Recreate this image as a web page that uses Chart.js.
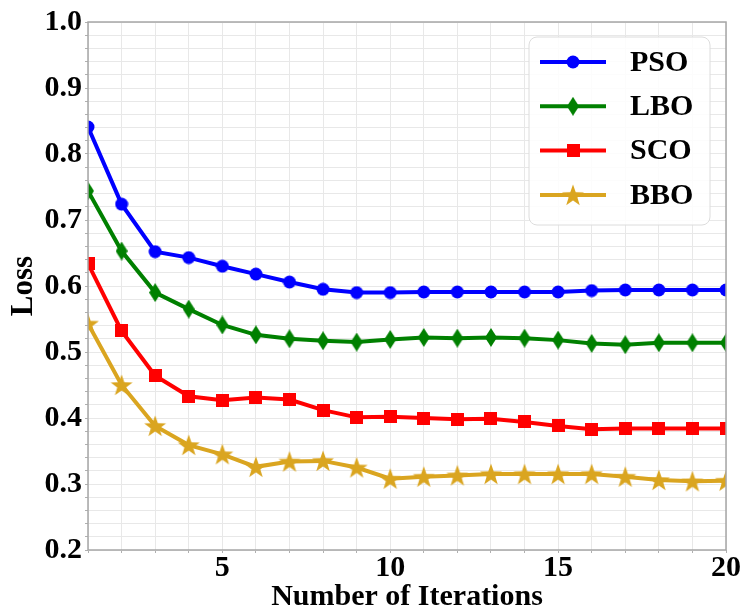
<!DOCTYPE html>
<html>
<head>
<meta charset="utf-8">
<title>Loss vs Iterations</title>
<script src="https://cdn.jsdelivr.net/npm/chart.js@4.4.1/dist/chart.umd.min.js"></script>
<style>
    html, body { margin: 0; padding: 0; background: #ffffff; }
    #chart { display: block; }
</style>
</head>
<body>
<canvas id="chart" width="744" height="608"></canvas>
<script>
var iterations = [1, 2, 3, 4, 5, 6, 7, 8, 9, 10, 11, 12, 13, 14, 15, 16, 17, 18, 19, 20];
var psoLoss = [0.841, 0.724, 0.652, 0.643, 0.630, 0.618, 0.606, 0.595, 0.590, 0.590, 0.591, 0.591, 0.591, 0.591, 0.591, 0.593, 0.594, 0.594, 0.594, 0.594];
var lboLoss = [0.744, 0.653, 0.590, 0.565, 0.541, 0.526, 0.520, 0.517, 0.515, 0.519, 0.522, 0.521, 0.522, 0.521, 0.518, 0.513, 0.511, 0.514, 0.514, 0.514];
var scoLoss = [0.634, 0.532, 0.464, 0.433, 0.427, 0.431, 0.428, 0.412, 0.401, 0.402, 0.400, 0.398, 0.399, 0.394, 0.388, 0.383, 0.384, 0.384, 0.384, 0.384];
var bboLoss = [0.543, 0.450, 0.388, 0.359, 0.345, 0.326, 0.334, 0.335, 0.325, 0.308, 0.311, 0.313, 0.315, 0.315, 0.315, 0.315, 0.311, 0.306, 0.304, 0.305];
var seriesNames = ['PSO', 'LBO', 'SCO', 'BBO'];
var xTickLabels = ['5', '10', '15', '20'];
var yTickLabels = ['0.2', '0.3', '0.4', '0.5', '0.6', '0.7', '0.8', '0.9', '1.0'];

var serif = "'Liberation Serif', 'Times New Roman', serif";

// marker images, drawn once and reused by the lines and the legend
function makeMarker(kind, color) {
    var c = document.createElement('canvas');
    var ctx, i, a, r;
    if (kind === 'circle') { c.width = 14; c.height = 14; }
    else if (kind === 'diamond') { c.width = 12; c.height = 19; }
    else if (kind === 'square') { c.width = 13; c.height = 13; }
    else { c.width = 24; c.height = 24; }
    ctx = c.getContext('2d');
    ctx.fillStyle = color;
    ctx.beginPath();
    if (kind === 'circle') {
        ctx.arc(7, 7, 6.5, 0, Math.PI * 2);
    } else if (kind === 'diamond') {
        ctx.moveTo(6, 0);
        ctx.lineTo(12, 9.5);
        ctx.lineTo(6, 19);
        ctx.lineTo(0, 9.5);
    } else if (kind === 'square') {
        ctx.rect(0, 0, 13, 13);
    } else {
        for (i = 0; i < 10; i++) {
            a = -Math.PI / 2 + i * Math.PI / 5;
            r = (i % 2 === 0) ? 11.5 : 4.6;
            ctx.lineTo(12 + r * Math.cos(a), 13 + r * Math.sin(a));
        }
    }
    ctx.closePath();
    ctx.fill();
    return c;
}

function toPoints(values) {
    return values.map(function (v, i) {
        return { x: iterations[i], y: v };
    });
}

function lineSet(label, values, color, marker) {
    return {
        label: label,
        data: toPoints(values),
        borderColor: color,
        backgroundColor: color,
        borderWidth: 4,
        tension: 0,
        pointStyle: marker,
        pointRadius: 7,
        pointHoverRadius: 7
    };
}

// grey frame round the plot area, like a boxed axes
var frame = {
    id: 'frame',
    afterDatasetsDraw: function (chart) {
        var a = chart.chartArea;
        var ctx = chart.ctx;
        ctx.save();
        ctx.strokeStyle = '#a6a6a6';
        ctx.lineWidth = 1.5;
        ctx.strokeRect(a.left, a.top, a.right - a.left, a.bottom - a.top);
        ctx.restore();
    }
};

// legend box in the top right corner of the plot
var boxLegend = {
    id: 'boxLegend',
    afterDatasetsDraw: function (chart) {
        var ctx = chart.ctx;
        var x = 529, y = 37, w = 181, h = 188, rad = 8;
        ctx.save();
        ctx.beginPath();
        ctx.roundRect(x, y, w, h, rad);
        ctx.fillStyle = 'rgba(255,255,255,0.85)';
        ctx.fill();
        ctx.strokeStyle = '#dcdcdc';
        ctx.lineWidth = 1;
        ctx.stroke();

        chart.data.datasets.forEach(function (ds, i) {
            var rowY = 62 + i * 44.3;
            var img = ds.pointStyle;
            ctx.beginPath();
            ctx.moveTo(540, rowY);
            ctx.lineTo(606, rowY);
            ctx.strokeStyle = ds.borderColor;
            ctx.lineWidth = 4;
            ctx.stroke();
            ctx.drawImage(img, 573 - img.width / 2, rowY - img.height / 2);
            ctx.fillStyle = '#000000';
            ctx.font = 'bold 30px ' + serif;
            ctx.textAlign = 'left';
            ctx.textBaseline = 'middle';
            ctx.fillText(ds.label, 630, rowY + 1);
        });
        ctx.restore();
    }
};

function loadChart() {
    var ctx = document.getElementById('chart');
    var datasets = [
        lineSet(seriesNames[0], psoLoss, '#0000ff', makeMarker('circle', '#0000ff')),
        lineSet(seriesNames[1], lboLoss, '#008000', makeMarker('diamond', '#008000')),
        lineSet(seriesNames[2], scoLoss, '#ff0000', makeMarker('square', '#ff0000')),
        lineSet(seriesNames[3], bboLoss, '#daa520', makeMarker('star', '#daa520'))
    ];
    var config = {
        type: 'line',
        data: { datasets: datasets },
        options: {
            responsive: false,
            animation: false,
            devicePixelRatio: 1,
            layout: { padding: { top: 22, right: 18, left: 0, bottom: 0 } },
            plugins: {
                legend: { display: false },
                tooltip: { enabled: false }
            },
            scales: {
                x: {
                    type: 'linear',
                    min: 1,
                    max: 20,
                    border: { display: false },
                    grid: { color: '#e8e8e8', lineWidth: 1, tickLength: 3, tickColor: '#b0b0b0' },
                    ticks: {
                        stepSize: 1,
                        autoSkip: false,
                        maxRotation: 0,
                        padding: 0,
                        color: '#000000',
                        font: { family: serif, size: 30, weight: 'bold', lineHeight: 1 },
                        callback: function (v) {
                            var s = String(Math.round(v));
                            return xTickLabels.indexOf(s) >= 0 ? s : '';
                        }
                    },
                    title: {
                        display: true,
                        text: 'Number of Iterations',
                        color: '#000000',
                        font: { family: serif, size: 30, weight: 'bold', lineHeight: 0.7 },
                        padding: { top: 0, bottom: 0 }
                    },
                    afterFit: function (scale) { scale.height = 58; }
                },
                y: {
                    min: 0.2,
                    max: 1.0,
                    border: { display: false },
                    grid: { color: '#e8e8e8', lineWidth: 1, tickLength: 3, tickColor: '#b0b0b0' },
                    ticks: {
                        stepSize: 0.02,
                        autoSkip: false,
                        padding: 3,
                        color: '#000000',
                        font: { family: serif, size: 30, weight: 'bold', lineHeight: 1 },
                        callback: function (v) {
                            var s = (Math.round(v * 100) / 100).toFixed(2);
                            var t = (Math.round(v * 10) / 10).toFixed(1);
                            return (s.charAt(3) === '0' && yTickLabels.indexOf(t) >= 0) ? t : '';
                        }
                    },
                    title: {
                        display: true,
                        text: 'Loss',
                        color: '#000000',
                        font: { family: serif, size: 31, weight: 'bold', lineHeight: 1 },
                        padding: { top: 8, bottom: 0 }
                    },
                    afterFit: function (scale) { scale.width = 88; }
                }
            }
        },
        plugins: [frame, boxLegend]
    };
    var myChart = new Chart(ctx, config);
}

loadChart();
</script>
</body>
</html>
